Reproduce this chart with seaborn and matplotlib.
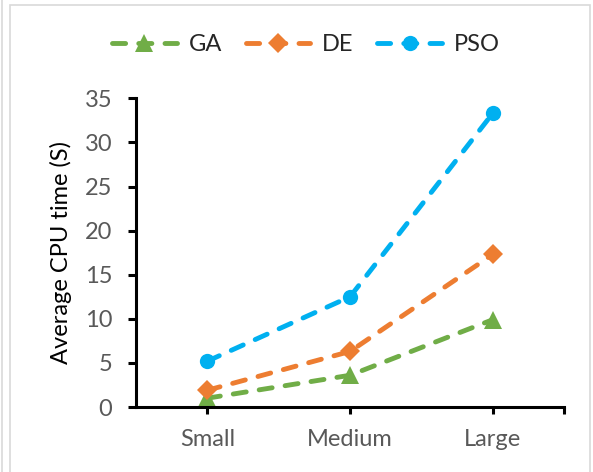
import matplotlib
matplotlib.use("Agg")
import matplotlib.pyplot as plt
import seaborn as sns
import pandas as pd
from matplotlib.patches import Rectangle
from matplotlib.lines import Line2D

# Problem sizes and mean CPU times (seconds) per algorithm
sizes = ["Small", "Medium", "Large"]
ga_times = [1.0, 3.6, 9.9]
de_times = [1.9, 6.3, 17.3]
pso_times = [5.2, 12.5, 33.3]
algorithms = ["GA", "DE", "PSO"]

df = pd.DataFrame({
    "Size": sizes * 3,
    "Time": ga_times + de_times + pso_times,
    "Algorithm": [a for a in algorithms for _ in sizes],
})

palette = {"GA": "#70AD47", "DE": "#ED7D31", "PSO": "#00B0F0"}
markers = {"GA": "^", "DE": "D", "PSO": "o"}
marker_sizes = {"GA": 13, "DE": 10, "PSO": 11}
dash = (0, (2.7, 2.7))
lw = 3.5

sns.set_theme(style="white")
plt.rcParams["font.family"] = ["Lato", "DejaVu Sans"]

fig = plt.figure(figsize=(5.93, 4.72), dpi=100)
ax = fig.add_axes([0.2293, 0.1377, 0.722, 0.654])

sns.lineplot(data=df, x="Size", y="Time", hue="Algorithm", style="Algorithm",
             palette=palette, markers=markers, dashes=False, ax=ax,
             linewidth=lw, legend=False, sort=False)

for line, alg in zip(ax.get_lines(), algorithms):
    line.set_linestyle(dash)
    line.set_dash_capstyle("round")
    line.set_markersize(marker_sizes[alg])
    line.set_markeredgewidth(0)

ax.set_xlim(-0.5, 2.5)
ax.set_ylim(0, 35)
ax.set_yticks(range(0, 36, 5))
ax.set_xticks([0, 1, 2])
ax.set_xticks([2.5], minor=True)
ax.set_xticklabels(sizes)

for side in ["top", "right"]:
    ax.spines[side].set_visible(False)
for side in ["left", "bottom"]:
    ax.spines[side].set_linewidth(2.2)
    ax.spines[side].set_color("black")

ax.tick_params(axis="y", which="major", direction="out", length=6, width=2.2,
               color="black", labelsize=17, labelcolor="#595959", left=True, pad=11)
ax.tick_params(axis="x", which="both", direction="out", length=5, width=2.2,
               color="black", labelsize=17, labelcolor="#595959", bottom=True, pad=11)

ax.set_xlabel("")
ax.set_ylabel("Average CPU time (S)", fontsize=17, color="black", labelpad=9)

handles = [
    Line2D([], [], color=palette[a], linestyle=dash, linewidth=lw,
           dash_capstyle="round", marker=markers[a], markersize=marker_sizes[a],
           markeredgewidth=0)
    for a in algorithms
]
fig.legend(handles, algorithms, loc="center", bbox_to_anchor=(0.516, 0.905),
           ncol=3, frameon=False, fontsize=17, handlelength=2.75,
           columnspacing=1.0, handletextpad=0.5)

# Chart frame
fig.patches.append(Rectangle((10 / 593, -0.05), 580 / 593, 1.05 - 4.5 / 472,
                             transform=fig.transFigure, fill=False,
                             edgecolor="#D9D9D9", linewidth=1.2))
fig.lines.append(Line2D([2 / 593, 2 / 593], [0, 1], transform=fig.transFigure,
                        color="#D9D9D9", linewidth=1.2))

fig.savefig("out.png", dpi=100)
